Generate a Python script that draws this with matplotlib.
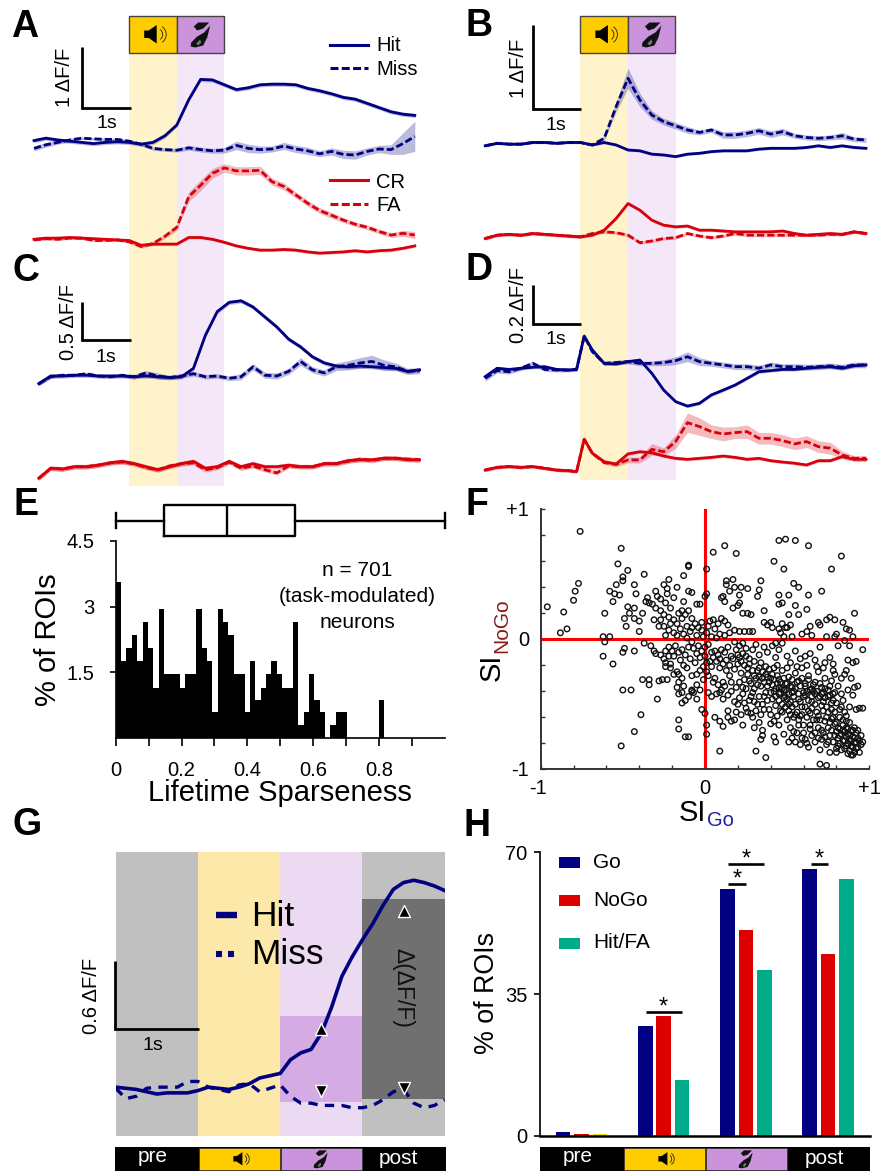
#!/usr/bin/env python3
import numpy as np
import matplotlib
matplotlib.use('Agg')
import matplotlib.pyplot as plt
from matplotlib.patches import Rectangle, Polygon, Arc

plt.rcParams['font.family'] = ['Liberation Sans', 'DejaVu Sans']

W, H = 880, 1171
NAVY, RED = '#000080', '#D8000C'
YELLOW, PURPLE = '#FFCC00', '#CC93DD'
BAND_Y, BAND_P = '#FEF3CB', '#F4E8F8'

# time axis of the traces (s from sound onset)
t_grid = np.arange(-2, 6.01, 0.25)
t_c = t_grid + 0.1
t_d = [-2, -1.75, -1.5, -1.25, -1, -.75, -.5, -.25, -.08, .08, .25, .5, .75,
       1, 1.25, 1.5, 1.75, 2, 2.25, 2.5, 2.75, 3, 3.25, 3.5, 3.75, 4, 4.25, 4.5, 4.75, 5, 5.25, 5.5, 5.75, 6]

# panel A
hit_a = [-.01, .03, 0, -.02, -.04, -.06, -.04, -.03, -.04, -.07, -.04, .07, .25, .67, 1.01, 1.0, .92, .84, .87, .92,
         .93, .93, .92, .86, .82, .77, .71, .68, .61, .54, .47, .43, .41]
miss_a = [-.14, -.08, -.04, 0, .03, .02, .01, .01, -.02, -.07, -.14, -.16, -.17, -.13, -.16, -.18, -.17, -.09, -.14, -.16,
          -.15, -.1, -.15, -.18, -.23, -.19, -.24, -.25, -.19, -.15, -.16, -.06, .06]
sem_miss_a = [.04, .04, .03, .03, .02, .02, .02, .02, .03, .03, .03, .03, .03, .04, .04, .04, .05, .07, .07, .06,
              .05, .06, .06, .06, .05, .06, .07, .07, .06, .06, .08, .18, .25]
cr_a = [-.01, .01, .01, .02, .01, 0, -.01, -.02, -.03, -.11, -.09, -.09, -.09, .02, .02, -.01, -.06, -.12, -.16, -.19,
        -.19, -.18, -.19, -.22, -.24, -.23, -.22, -.2, -.22, -.2, -.19, -.16, -.12]
fa_a = [-.02, 0, -.01, .01, .01, -.03, -.03, -.02, -.05, -.13, -.08, .04, .19, .7, .89, 1.09, 1.18, 1.13, 1.13, 1.14,
        .95, .87, .73, .59, .47, .39, .31, .24, .19, .12, .06, .09, .06]
sem_fa_a = [.02, .02, .02, .02, .02, .02, .02, .02, .03, .03, .03, .04, .05, .08, .09, .08, .07, .07, .07, .07,
            .06, .06, .05, .05, .05, .05, .04, .04, .04, .04, .04, .05, .06]

# panel B
hit_b = [-.03, 0, -.01, -.01, .01, .01, 0, .01, .01, -.02, .01, -.02, -.08, -.09, -.13, -.14, -.16, -.13, -.12, -.1,
         -.09, -.09, -.09, -.07, -.06, -.06, -.06, -.05, -.03, -.05, -.03, -.05, -.06]
miss_b = [-.03, 0, -.01, -.01, .01, .01, 0, .01, .01, -.02, .06, .44, .78, .52, .34, .26, .21, .16, .13, .16,
          .1, .1, .12, .15, .11, .14, .09, .07, .06, .07, .09, .05, .04]
sem_miss_b = [.01, .01, .01, .01, .01, .01, .01, .01, .01, .01, .03, .06, .12, .08, .05, .04, .04, .04, .03, .03,
              .04, .04, .04, .04, .04, .04, .03, .03, .03, .03, .04, .03, .03]
cr_b = [-.03, .01, .02, .01, .03, .02, .01, 0, -.01, .01, .07, .21, .39, .31, .19, .13, .11, .12, .07, .07,
        .06, .05, .05, .05, .05, .06, .03, .01, .02, .03, .02, .05, .03]
fa_b = [-.03, .01, .02, .01, .03, .02, .01, 0, -.01, .03, .05, .04, .01, -.08, -.06, -.03, -.02, .03, 0, -.02,
        0, .03, .01, .01, .01, .01, .01, .01, .01, .02, .02, .05, .03]

# panel C
hit_c = [-.1, 0, 0, .01, .01, 0, 0, 0, -.01, 0, -.01, -.02, -.01, .1, .53, .84, .96, .98, .9, .77,
         .64, .48, .38, .25, .17, .13, .12, .13, .12, .11, .1, .06, .08]
miss_c = [-.1, -.01, .01, .01, .03, 0, -.01, .01, -.01, .04, 0, -.02, 0, .03, -.01, 0, -.03, -.01, .12, .01,
          0, .06, .19, .08, .04, .12, .14, .17, .19, .14, .12, .06, .07]
sem_miss_c = [.03, .02, .02, .02, .02, .02, .02, .02, .03, .03, .04, .03, .03, .03, .03, .03, .03, .04, .04, .04,
              .04, .04, .05, .04, .04, .05, .06, .07, .08, .07, .05, .04, .04]
cr_c = [-.15, -.02, -.03, 0, 0, .02, .05, .07, .04, 0, -.04, 0, .04, .07, -.02, 0, .07, 0, .04, 0,
        0, .02, 0, 0, .04, .04, .08, .09, .09, .11, .11, .09, .09]
fa_c = [-.15, -.02, -.03, 0, 0, .02, .05, .06, .04, -.01, -.04, .01, .04, .05, -.04, -.01, .06, -.02, .01, -.04,
        -.08, .01, 0, 0, .04, .04, .07, .1, .08, .11, .11, .1, .09]

# panel D
hit_d = [-.034, .009, .003, .009, .014, .017, .003, 0, .003, .174, .103, .034, .031, .043, .051, -.017, -.103, -.162,
         -.185, -.171, -.128, -.103, -.077, -.043, -.009, -.003, .003, .003, .009, .014, .017, .009, .022, .026]
miss_d = [-.043, -.003, -.009, .009, .034, .003, 0, 0, .003, .174, .094, .034, .038, .043, .034, .034, .038, .048,
          .068, .043, .034, .026, .017, .017, .009, .026, .017, .017, .014, .017, .021, .014, .026, .026]
sem_miss_d = [.015, .012, .012, .012, .012, .01, .01, .01, .01, .012, .01, .012, .012, .012, .012, .012, .015, .02,
              .025, .02, .015, .015, .015, .015, .015, .015, .015, .015, .015, .015, .015, .015, .015, .015]
cr_d = [-.009, .005, .009, .005, .009, 0, -.009, -.012, -.017, .149, .077, .034, .022, .074, .085, .08, .063, .051,
        .046, .051, .056, .063, .056, .046, .051, .039, .032, .026, .017, .039, .039, .06, .046, .046]
fa_d = [-.009, .005, .009, .005, .009, 0, -.009, -.012, -.017, .149, .077, .029, .02, .043, .043, .097, .085, .137,
        .234, .214, .188, .176, .183, .188, .154, .154, .142, .125, .137, .111, .103, .068, .051, .051]
sem_fa_d = [.008, .008, .008, .008, .008, .008, .008, .008, .008, .008, .008, .008, .012, .015, .015, .03, .02, .035,
            .05, .045, .035, .035, .03, .035, .03, .03, .03, .03, .03, .03, .03, .02, .015, .015]

# panel E
sparseness_pct = [3.55, 1.75, 2.05, 2.35, 1.75, 2.65, 2.05, 1.15, 2.95, 1.47, 1.47, 1.47, 1.15, 1.47, 1.47, 2.95, 2.05, 1.75,
                  .6, 2.95, 2.65, 2.35, 1.47, 1.47, .6, 1.75, .88, 1.15, 1.47, 1.75, 1.47, 1.15, 1.15, 2.65, .3, .6, 1.47,
                  .88, .6, 0, .3, .6, .6, 0, 0, 0, 0, 0, 0, .88, 0, 0, 0, 0, 0, 0, 0, 0, 0, 0, 0]
sparse_bin = 0.0163
sparse_box = dict(whislo=0, q1=.148, med=.338, q3=.543, whishi=1.0, fliers=[])

# panel F: (SI_Go, SI_NoGo)
si_pairs = [
    (-.76, .83), (-.96, .25), (-.86, .21), (-.80, .30), (-.79, .37), (-.77, .43), (-.88, .05), (-.84, .08),
    (-.51, .70), (-.53, .58), (-.47, .53), (-.37, .50), (-.50, .48), (-.54, .42), (-.50, .45), (-.43, .42),
    (-.58, .37), (-.55, .35), (-.52, .34), (-.56, .29), (-.61, .20), (-.62, .02), (-.61, -.02), (-.58, .02),
    (-.62, -.13), (-.56, -.19), (-.50, -.10), (-.49, -.07), (-.43, -.09), (-.47, .25), (-.43, .24), (-.46, .20),
    (-.38, .20), (-.49, .16), (-.43, .16), (-.48, .10), (-.40, .06), (-.40, .14), (-.42, .35), (-.35, .32),
    (-.34, .28), (-.32, .27), (-.29, .33), (-.30, .37), (-.25, .42), (-.22, .46), (-.23, .39), (-.17, .40),
    (-.23, .35), (-.19, .32), (-.13, .29), (-.13, .49), (-.10, .56), (-.10, .57), (-.10, .37), (-.08, .36),
    (-.05, .27), (-.03, .27), (0, .33), (.01, .35), (.01, .54), (.05, .67), (.12, .72), (.19, .66),
    (.45, .76), (.49, .77), (.55, .76), (.63, .72), (.83, .64), (.77, .54), (.48, .54), (.42, .60),
    (-.50, -.39), (-.45, -.39), (-.29, -.46), (-.39, -.58), (-.43, -.71), (-.51, -.82), (-.38, -.31), (-.34, -.31),
    (-.34, -.35), (-.28, -.32), (-.26, -.31), (-.23, -.31), (-.16, -.62), (-.16, -.69), (-.12, -.75), (-.10, -.75),
    (-.02, -.54), (0, -.57), (.01, -.66), (.01, -.73), (.09, -.86), (.31, -.86), (.37, -.91), (.70, -.96),
    (.74, -.97), (.76, -.87), (.80, -.87),
    (.13, .45), (.17, .46), (.13, .42), (.18, .40), (.22, .40), (.26, .39), (.34, .45), (.33, .38), (.32, .33),
    (.21, .34), (.15, .37), (.10, .32), (.11, .33), (.12, .29), (.21, .28), (.20, .26), (.17, .24), (.23, .20),
    (.26, .20), (.28, .19), (.36, .22), (.45, .34), (.51, .34), (.54, .43), (.57, .40), (.63, .34), (.71, .37),
    (.47, .28), (.45, .27), (.55, .26), (.62, .23), (.51, .19), (.57, .19), (.91, .20), (.76, .17), (.74, .15),
    (.69, .13), (.64, .10), (.84, .13), (.40, .13),
    (-.30, .24), (-.27, .22), (-.25, .19), (-.22, .17), (-.19, .15), (-.17, .12), (-.14, .16), (-.12, .19), (-.10, .22),
    (-.08, .16), (-.06, .12), (-.11, .10), (-.15, .08), (-.19, .05), (-.22, .07), (-.24, .03), (-.28, .10), (-.31, .15),
    (-.13, .04), (-.09, .06), (-.05, .03), (-.02, .07), (-.01, .02), (.01, .05), (.03, .14), (.05, .15), (.08, .12),
    (.10, .16), (.12, .14), (.14, .11), (.06, .08), (.09, .04), (.12, .03), (.15, .05), (.18, .07), (.21, .06),
    (.24, .06), (.27, .06), (.29, .06), (.36, .13), (.38, .11), (.41, .09), (.45, .08), (.47, .12), (.49, .09),
    (.50, .09), (.46, .05), (.48, .02), (.53, .02), (.59, .04), (.62, .06), (.65, .03), (.70, .11), (.74, .02),
    (.79, .15), (.80, .04), (.79, .02), (.86, .08), (.88, .07), (.85, -.01), (.88, -.05), (.90, .02), (.52, .11),
    (.43, -.03),
    (-.37, -.03), (-.33, -.05), (-.31, -.09), (-.30, -.11), (-.27, -.12), (-.25, -.15), (-.24, -.18), (-.22, -.13),
    (-.20, -.09), (-.18, -.05), (-.16, -.10), (-.14, -.08), (-.12, -.12), (-.10, -.06), (-.08, -.02), (-.05, -.11),
    (-.03, -.14), (0, -.06), (.02, -.04), (.04, -.10), (.06, -.09), (.08, -.12), (.10, -.08), (.12, -.10), (.14, -.06),
    (.16, -.13), (.18, -.02), (.21, -.05), (.23, -.11), (.25, -.13), (.27, -.15), (.29, -.08), (.31, -.04), (.33, -.12),
    (.36, -.06), (.38, -.10), (.41, -.05), (.43, -.14), (.45, -.08), (.47, -.03), (.50, -.13), (.52, -.18), (.55, -.09),
    (.58, -.15), (.61, -.13), (.64, -.11), (.67, -.16), (.70, -.06), (.73, -.18), (.76, -.14), (.78, -.19), (.81, -.05),
    (.87, -.16), (.92, -.17), (.96, -.08), (.90, -.18),
    (-.21, -.22), (-.19, -.27), (-.16, -.33), (-.17, -.37), (-.13, -.36), (-.08, -.39), (-.05, -.35), (-.16, -.42),
    (-.12, -.47), (-.08, -.40), (-.14, -.49),
    (-.24, -.21), (-.21, -.19), (-.17, -.25), (-.16, -.27), (-.14, -.30), (-.11, -.22), (-.08, -.28), (-.05, -.27),
    (-.03, -.24), (-.01, -.31), (.01, -.25), (.04, -.21), (.06, -.30), (.09, -.22), (.11, -.33), (.13, -.24), (.15, -.28),
    (.18, -.23), (.20, -.19), (.22, -.26), (.24, -.31), (.26, -.22), (.28, -.34), (.30, -.28), (.32, -.24), (.34, -.36),
    (.35, -.30), (.37, -.21), (.39, -.33), (.41, -.27), (.43, -.38), (.45, -.31), (.47, -.24), (.49, -.34), (.51, -.29),
    (.53, -.37), (.55, -.26), (.57, -.32), (.59, -.22), (.61, -.36), (.63, -.28), (.65, -.38), (.67, -.33), (.69, -.25),
    (.71, -.37), (.73, -.30), (.75, -.39), (.77, -.32), (.79, -.27), (.81, -.36), (.83, -.30), (.85, -.27), (.87, -.39),
    (.89, -.30), (.91, -.37), (.93, -.36), (.86, -.24), (.33, -.22), (.38, -.29), (.44, -.20), (.50, -.22), (.56, -.21),
    (.62, -.20), (.68, -.21), (.72, -.22), (.78, -.24),
    (-.14, -.41), (-.10, -.44), (-.07, -.41), (-.05, -.46), (-.03, -.39), (.02, -.41), (.04, -.44), (.07, -.42), (.09, -.41),
    (.11, -.46), (.14, -.43), (.16, -.40), (.18, -.48), (.21, -.45), (.23, -.42), (.25, -.53), (.27, -.47), (.29, -.41),
    (.31, -.55), (.33, -.44), (.35, -.50), (.37, -.41), (.39, -.54), (.41, -.46), (.43, -.51), (.45, -.42), (.47, -.56),
    (.49, -.44), (.51, -.50), (.53, -.41), (.55, -.58), (.57, -.46), (.59, -.52), (.61, -.43), (.63, -.55), (.65, -.48),
    (.67, -.42), (.69, -.59), (.71, -.51), (.73, -.45), (.75, -.56), (.77, -.49), (.79, -.41), (.82, -.54), (.84, -.47),
    (.86, -.59), (.88, -.52), (.90, -.43), (.92, -.54), (.94, -.53), (.96, -.53), (.14, -.55), (.19, -.56), (.22, -.58),
    (.28, -.57), (.34, -.58), (.38, -.47), (.44, -.59), (.52, -.58), (.58, -.59), (.64, -.57), (.70, -.44), (.76, -.43),
    (.83, -.42), (.30, -.48), (.36, -.44), (.42, -.40), (.48, -.39), (.54, -.40), (.60, -.41), (.66, -.40), (.72, -.41),
    (.78, -.42),
    (.06, -.60), (.09, -.63), (.11, -.67), (.14, -.60), (.16, -.63), (.18, -.62), (.23, -.66), (.30, -.68), (.33, -.64),
    (.35, -.70), (.35, -.74), (.34, -.77), (.42, -.75), (.43, -.79), (.40, -.65), (.45, -.66), (.48, -.73), (.51, -.79),
    (.53, -.76), (.54, -.71), (.55, -.79), (.57, -.66), (.58, -.81), (.60, -.72), (.61, -.77), (.63, -.83), (.64, -.66),
    (.65, -.74), (.67, -.79), (.68, -.62), (.69, -.68), (.70, -.85), (.71, -.77), (.72, -.72), (.73, -.63), (.74, -.81),
    (.75, -.68), (.76, -.74), (.77, -.61), (.78, -.79), (.79, -.65), (.80, -.71), (.80, -.84), (.81, -.76), (.82, -.69),
    (.82, -.80), (.83, -.73), (.84, -.66), (.84, -.78), (.85, -.71), (.85, -.84), (.86, -.75), (.86, -.68), (.87, -.80),
    (.87, -.73), (.88, -.86), (.88, -.77), (.89, -.70), (.89, -.82), (.90, -.75), (.90, -.89), (.91, -.68), (.91, -.80),
    (.92, -.84), (.93, -.76), (.94, -.87), (.95, -.81), (.96, -.79),
    (.20, -.12), (.22, -.17), (.24, -.20), (.26, -.27), (.27, -.19), (.29, -.24), (.30, -.17), (.31, -.30), (.32, -.35),
    (.33, -.29), (.34, -.18), (.35, -.25), (.36, -.33), (.37, -.27), (.38, -.36), (.39, -.23), (.40, -.30), (.40, -.41),
    (.41, -.35), (.42, -.22), (.42, -.31), (.43, -.44), (.44, -.34), (.44, -.28), (.45, -.37), (.45, -.47), (.46, -.41),
    (.46, -.33), (.47, -.50), (.47, -.38), (.48, -.45), (.48, -.30), (.49, -.52), (.49, -.39), (.50, -.46), (.50, -.34),
    (.51, -.55), (.51, -.42), (.52, -.36), (.52, -.48), (.53, -.31), (.53, -.52), (.54, -.44), (.54, -.60), (.55, -.38),
    (.55, -.50), (.56, -.33), (.56, -.56), (.57, -.42), (.57, -.62), (.58, -.36), (.58, -.48), (.59, -.30), (.59, -.58),
    (.60, -.44), (.60, -.66), (.61, -.52), (.61, -.34), (.62, -.40), (.62, -.60), (.63, -.47), (.63, -.31), (.64, -.69),
    (.64, -.39), (.65, -.53), (.65, -.44), (.66, -.62), (.66, -.35), (.67, -.50), (.67, -.72), (.68, -.40), (.68, -.56),
    (.69, -.45), (.69, -.76), (.70, -.34), (.70, -.62), (.71, -.42), (.71, -.70), (.72, -.55), (.72, -.48), (.73, -.38),
    (.73, -.75), (.74, -.60), (.74, -.52), (.75, -.44), (.75, -.79), (.76, -.64), (.76, -.36), (.77, -.54), (.77, -.70),
    (.78, -.47), (.78, -.60), (.79, -.74), (.79, -.56), (.80, -.64), (.80, -.49), (.81, -.68), (.81, -.82), (.82, -.60),
    (.82, -.74), (.83, -.52), (.83, -.85), (.84, -.70), (.84, -.62), (.85, -.78), (.85, -.56), (.86, -.82), (.86, -.63),
    (.87, -.69), (.87, -.88), (.88, -.74), (.88, -.64), (.89, -.78), (.89, -.89), (.90, -.70), (.90, -.83), (.91, -.76),
    (.91, -.87), (.92, -.72), (.92, -.79), (.93, -.83), (.93, -.70), (.94, -.78), (.95, -.74),
    (.03, -.17), (.05, -.14), (.07, -.17), (.09, -.15), (.11, -.19), (.13, -.16), (.15, -.20), (.17, -.15), (.19, -.08),
    (.21, -.14), (.23, -.03), (.25, -.07), (.02, -.28), (.05, -.33), (.08, -.35), (.10, -.39), (.12, -.36), (.16, -.33),
    (.19, -.37), (.21, -.33), (.23, -.37), (.25, -.38), (.27, -.32), (.28, -.44), (.30, -.38), (.20, -.50), (.24, -.49),
    (.26, -.56), (.29, -.60), (.32, -.50), (.36, -.54), (.40, -.58), (.42, -.63), (.46, -.55), (.50, -.62), (.52, -.68),
    (.56, -.72), (.59, -.76), (.62, -.80),
    (-.07, -.07), (-.04, -.05), (-.02, -.09), (0, -.13), (.01, -.18), (-.01, -.21), (-.06, -.18), (-.09, -.15), (-.13, -.20),
    (-.15, -.16), (-.19, -.13), (-.22, -.06), (-.24, -.09), (-.11, .01), (-.08, .09), (-.04, .09), (-.02, .13), (.02, .10),
    (.04, .02), (.07, .01), (-.17, .03), (-.21, .12), (-.25, .10), (-.27, .15), (-.24, .28), (-.27, .31), (-.21, .24),
    (-.16, .20), (-.14, .22), (-.36, .29),
]

# panel G
t_g = np.arange(-1, 3.01, 0.125)
hit_g = [.01, 0, -.01, -.03, -.05, -.04, -.04, -.04, -.02, .01, 0, -.01, .01, .04, .09, .11, .13, .25, .31, .34,
         .48, .71, .98, 1.15, 1.3, 1.44, 1.6, 1.74, 1.8, 1.82, 1.8, 1.77, 1.73]
miss_g = [0, -.09, -.07, 0, .01, .01, .01, .06, .06, .01, -.01, -.03, .03, .04, -.03, 0, .03, -.07, -.13, -.13,
          -.15, -.15, -.15, -.17, -.17, -.15, -.1, -.03, -.01, -.13, -.17, -.15, -.1]
hit_epochs = [(1.5, .52), (2.5, 1.55)]
miss_epochs = [(1.5, -.02), (2.5, 0)]

# panel H
epochs = ['pre', 'sound', 'lick', 'post']
go_pct = [.9, 27.1, 61, 65.8]
nogo_pct = [.4, 29.5, 50.8, 44.9]
hitfa_pct = [.3, 13.7, 40.9, 63.5]
hitfa_colors = ['#EEDD00', '#00AB8A', '#00AB8A', '#00AB8A']


def px_axes(x0, py0, x1, py1, **kw):
    return fig.add_axes([x0 / W, 1 - py1 / H, (x1 - x0) / W, (py1 - py0) / H], **kw)


def trace_axes(x0, x1, py0, py1, onset_px, base_py, per_unit):
    ax = px_axes(x0, py0, x1, py1)
    ax.set_xlim((x0 - onset_px) / 47.6, (x1 - onset_px) / 47.6)
    ax.set_ylim((base_py - py1) / per_unit, (base_py - py0) / per_unit)
    ax.axis('off')
    ax.patch.set_alpha(0)
    ax.axvspan(0, 1, color=BAND_Y, lw=0, zorder=0)
    ax.axvspan(1, 2, color=BAND_P, lw=0, zorder=0)
    return ax


def trace(ax, t, vals, color, dashed=False, sem=.02, offset=0, lw=2.0):
    vals = np.array(vals) + offset
    sem = np.array(sem)
    ax.fill_between(t, vals - sem, vals + sem, color=color, alpha=.27, lw=0, zorder=1)
    if dashed:
        ax.plot(t, vals, color=color, lw=lw, dashes=(2.6, 1.1), zorder=3)
    else:
        ax.plot(t, vals, color=color, lw=lw, zorder=2)


def speaker(cx, cy, s=1.0):
    pts = [(-8.5, -4), (-4, -4), (4, -9.5), (4, 9), (-4, 3.5), (-8.5, 3.5)]
    ov.add_patch(Polygon([(cx + s * x, cy + s * y) for x, y in pts], color='k', lw=0, zorder=6))
    for r in (6, 9.5):
        ov.add_patch(Arc((cx + s * 4, cy), 2 * s * r, 2 * s * r, theta1=-55, theta2=55, color='#222', lw=.6, zorder=6))


def droplet(cx, cy, s=1.0):
    top = [(-6.5, -8), (-2, -12), (9, -12), (3, -6), (-3, -4)]
    low = [(10, -9), (4, -2), (-3, 2), (-9, 8), (-9.5, 12), (-5, 13), (3, 11), (7, 3)]
    shine = [(-4, 9), (0, 5), (1, 8), (-2, 11)]
    ov.add_patch(Polygon([(cx + s * x, cy + s * y) for x, y in top], color='#111', lw=0, zorder=6))
    ov.add_patch(Polygon([(cx + s * x, cy + s * y) for x, y in low], color='#111', lw=0, zorder=6))
    ov.add_patch(Polygon([(cx + s * x, cy + s * y) for x, y in shine], color='#777', lw=0, zorder=7))


def header(x0):
    ov.add_patch(Rectangle((x0, 16), 47.5, 37, fc=YELLOW, ec='#444', lw=1, zorder=5))
    ov.add_patch(Rectangle((x0 + 47.5, 16), 47.5, 37, fc=PURPLE, ec='#444', lw=1, zorder=5))
    speaker(x0 + 23.5, 34.5)
    droplet(x0 + 71, 34.5)


def epoch_bar(x0, x1, ya, yb, pre_x, post_x):
    ov.add_patch(Rectangle((x0, 1147), x1 - x0, 24, fc='k', lw=0, zorder=5))
    ov.add_patch(Rectangle((ya, 1148), 81, 22, fc=YELLOW, ec='#333', lw=.5, zorder=5))
    ov.add_patch(Rectangle((yb, 1148), 81, 22, fc=PURPLE, ec='#333', lw=.5, zorder=5))
    speaker(ya + 41, 1159, .72)
    droplet(yb + 40, 1159, .72)
    txt(pre_x, 1157, 'pre', 15, color='w')
    txt(post_x, 1158, 'post', 15, color='w')


def txt(x, y, s, size, **kw):
    kw.setdefault('ha', 'center')
    kw.setdefault('va', 'center')
    ov.text(x, y, s, fontsize=size, zorder=8, **kw)


def scale_bar(x, py0, py1, x1, lw=2.0):
    ov.plot([x, x, x1], [py0, py1, py1], color='k', lw=lw, solid_joinstyle='miter', solid_capstyle='butt', zorder=5)


fig = plt.figure(figsize=(W / 100, H / 100), dpi=100)
ov = fig.add_axes([0, 0, 1, 1], zorder=10)
ov.set_xlim(0, W)
ov.set_ylim(H, 0)
ov.axis('off')
ov.patch.set_alpha(0)

# A
ax = trace_axes(0, 440, 53, 258, 129.2, 140, 60)
red_off = (140 - 238.7) / 60
trace(ax, t_grid, hit_a, NAVY, sem=.035)
trace(ax, t_grid, miss_a, NAVY, True, sem_miss_a)
trace(ax, t_grid, cr_a, RED, sem=.025, offset=red_off)
trace(ax, t_grid, fa_a, RED, True, sem_fa_a, red_off)

# B
ax = trace_axes(440, 880, 53, 258, 580.4, 143.3, 83.3)
red_off = (143.3 - 236) / 83.3
trace(ax, t_grid, hit_b, NAVY, sem=.015)
trace(ax, t_grid, miss_b, NAVY, True, sem_miss_b)
trace(ax, t_grid, cr_b, RED, sem=.018, offset=red_off)
trace(ax, t_grid, fa_b, RED, True, sem=.018, offset=red_off)

# C
ax = trace_axes(0, 440, 258, 486, 129.2, 376, 76.7)
red_off = (376 - 466.7) / 76.7
trace(ax, t_c, hit_c, NAVY, sem=.028)
trace(ax, t_c, miss_c, NAVY, True, sem_miss_c)
trace(ax, t_c, cr_c, RED, sem=.03, offset=red_off)
trace(ax, t_c, fa_c, RED, True, sem=.03, offset=red_off)

# D
ax = trace_axes(440, 880, 258, 480, 580.4, 370, 195)
red_off = (370 - 468.3) / 195
trace(ax, t_d, hit_d, NAVY, sem=.008)
trace(ax, t_d, miss_d, NAVY, True, sem_miss_d)
trace(ax, t_d, cr_d, RED, sem=.008, offset=red_off)
trace(ax, t_d, fa_d, RED, True, sem_fa_d, red_off)

header(129.2)
header(580.4)
scale_bar(82, 47, 107.5, 130.5)
scale_bar(532.7, 25, 108.5, 581)
scale_bar(82, 301.5, 340, 130.5)
scale_bar(532.7, 285, 324, 581)
txt(64, 77, '1 \u0394F/F', 14.5, rotation=90)
txt(107, 123, '1s', 14)
txt(518, 68, '1 \u0394F/F', 14.5, rotation=90)
txt(556, 125, '1s', 14)
txt(68, 322, '0.5 \u0394F/F', 14.5, rotation=90)
txt(106, 357, '1s', 14)
txt(518, 305, '0.2 \u0394F/F', 14.5, rotation=90)
txt(556, 340, '1s', 14)

# trace legend of A
ov.plot([330, 368], [44.7, 44.7], color=NAVY, lw=2.2, zorder=5)
ov.plot([330, 368], [67.7, 67.7], color=NAVY, lw=2.2, dashes=(2.6, 1.1), zorder=5)
ov.plot([330, 368], [180.3, 180.3], color=RED, lw=2.2, zorder=5)
ov.plot([330, 368], [203.7, 203.7], color=RED, lw=2.2, dashes=(2.6, 1.1), zorder=5)
for ly, lab in [(45.5, 'Hit'), (69.5, 'Miss'), (182, 'CR'), (205.5, 'FA')]:
    txt(376, ly, lab, 14.5, ha='left')

# E
ax_box = px_axes(115.7, 500, 445, 541)
ax_box.bxp([sparse_box], orientation='horizontal', widths=.8, showfliers=False,
           boxprops=dict(lw=1.7), medianprops=dict(color='k', lw=1.7), whiskerprops=dict(lw=1.7), capprops=dict(lw=1.7))
ax_box.set_xlim(0, 1)
ax_box.set_ylim(.48, 1.52)
ax_box.axis('off')
for child in ax_box.get_children():
    child.set_clip_on(False)

ax = px_axes(115.7, 540.7, 445, 738.3)
edges = np.arange(len(sparseness_pct)) * sparse_bin
ax.bar(edges, sparseness_pct, sparse_bin, align='edge', color='k', lw=0)
ax.set_xlim(0, 1)
ax.set_ylim(0, 4.5)
ax.spines[['top', 'right']].set_visible(False)
ax.spines[['left', 'bottom']].set_linewidth(1.2)
ax.set_xticks(np.arange(0, .91, .1))
ax.set_xticklabels(['0', '', '0.2', '', '0.4', '', '0.6', '', '0.8', ''])
ax.set_yticks([1.5, 3, 4.5])
ax.set_yticklabels(['1.5', '3', '4.5'])
ax.tick_params(axis='x', length=6, width=1.2, labelsize=14.5, pad=10)
ax.tick_params(axis='y', length=4, width=1.2, labelsize=14.5, pad=11)
txt(280, 793, 'Lifetime Sparseness', 21)
txt(47.5, 640, '% of ROIs', 21, rotation=90)
txt(357, 570, 'n = 701', 15)
txt(357, 597, '(task-modulated)', 15)
txt(357, 623, 'neurons', 15)

# F
ax = px_axes(540.7, 509.3, 869.3, 769.3)
si_go, si_nogo = zip(*si_pairs)
ax.scatter(si_go, si_nogo, s=16, facecolors='none', edgecolors='#111', linewidths=1.0, zorder=3, clip_on=False)
ax.axhline(0, color='#FF0000', lw=2.2, zorder=2)
ax.axvline(0, color='#FF0000', lw=2.2, zorder=2)
ax.set_xlim(-1, 1)
ax.set_ylim(-1, 1)
ax.spines[['top', 'right']].set_visible(False)
ax.spines[['left', 'bottom']].set_color('#333')
ax.spines[['left', 'bottom']].set_linewidth(1.4)
ticks = np.arange(-1, 1.01, .2)
ax.set_xticks(ticks)
ax.set_yticks(ticks)
ax.set_xticklabels(['' for _ in ticks])
ax.set_yticklabels(['' for _ in ticks])
ax.tick_params(direction='in', length=3, width=1, color='#333')
for x, lab in [(541, '-1'), (705, '0'), (869, '+1')]:
    txt(x - (3 if lab == '-1' else 0), 789, lab, 14.5)
for y, lab in [(510, '+1'), (640, '0'), (771, '-1')]:
    txt(529, y, lab, 14.5, ha='right')
txt(692, 813, 'SI', 21)
txt(706.5, 820, 'Go', 14.5, color='#1F1FA8', ha='left', va='center')
txt(492, 667, 'SI', 21, rotation=90)
txt(502, 626, 'NoGo', 15, rotation=90, color='#8B1A1A')

# G
ax = px_axes(115.7, 852.3, 444.7, 1136)
ax.set_xlim(-1, 3)
ax.set_ylim((1088.3 - 1136) / 114.3, (1088.3 - 852.3) / 114.3)
ax.axis('off')
ax.axvspan(-1, 0, color='#C0C0C0', lw=0, zorder=0)
ax.axvspan(0, 1, color='#FCE9A9', lw=0, zorder=0)
ax.axvspan(1, 2, color='#ECDAF2', lw=0, zorder=0)
ax.axvspan(2, 3, color='#C0C0C0', lw=0, zorder=0)
ax.add_patch(Rectangle((1, -.12), 1, .75, fc='#D4ACE3', lw=0, zorder=1))
ax.add_patch(Rectangle((2, -.09), 1, 1.75, fc='#707070', lw=0, zorder=1))
ax.plot(t_g, miss_g, color=NAVY, lw=2.4, dashes=(2.8, 2.2), zorder=2)
ax.plot(t_g, hit_g, color=NAVY, lw=2.6, zorder=3)
ax.scatter(*zip(*hit_epochs), marker='^', s=75, c='k', edgecolors='w', linewidths=1, zorder=4)
ax.scatter(*zip(*miss_epochs), marker='v', s=75, c='k', edgecolors='w', linewidths=1, zorder=4)
ov.plot([216, 237], [915.3, 915.3], color=NAVY, lw=4.6, solid_capstyle='butt', zorder=5)
ov.plot([216, 221.5], [954, 954], color=NAVY, lw=4.4, solid_capstyle='butt', zorder=5)
ov.plot([228, 233.5], [954, 954], color=NAVY, lw=4.4, solid_capstyle='butt', zorder=5)
txt(251, 916, 'Hit', 25.5, ha='left')
txt(251, 954, 'Miss', 25.5, ha='left')
scale_bar(115, 961, 1029, 198.5)
txt(91.5, 995.5, '0.6 \u0394F/F', 14.5, rotation=90)
txt(153, 1046, '1s', 14)
txt(402.5, 988, '\u0394(\u0394F/F)', 16.5, rotation=270, color='#111')
epoch_bar(115, 445.5, 198.5, 280.5, 153, 398.5)

# H
ax = px_axes(540, 852.3, 870, 1135.7)
idx = np.arange(len(epochs))
ax.bar(idx - .223, go_pct, .178, color=NAVY, lw=0)
ax.bar(idx, nogo_pct, .178, color='#DD0000', lw=0)
ax.bar(idx + .223, hitfa_pct, .178, color=hitfa_colors, lw=0)
ax.set_xlim(-.505, 3.51)
ax.set_ylim(0, 70)
ax.spines[['top', 'right']].set_visible(False)
ax.spines['left'].set_linewidth(1.4)
ax.spines['bottom'].set_linewidth(1.8)
ax.spines['left'].set_color('#222')
ax.set_xticks([])
ax.set_yticks([0, 35, 70])
ax.tick_params(axis='y', length=4, width=1.2, labelsize=14.5, pad=5)
for y_leg, color, lab in [(862.5, NAVY, 'Go'), (900.7, '#DD0000', 'NoGo'), (943, '#00AB8A', 'Hit/FA')]:
    ov.add_patch(Rectangle((559, y_leg - 5.5), 20.5, 11, fc=color, lw=0, zorder=5))
    txt(593.5, y_leg, lab, 15, ha='left')
for x0, x1, y in [(645.7, 681.7, 1012), (728.3, 764, 864.3), (728.3, 745.7, 884.3), (810.7, 828, 864.3)]:
    ov.plot([x0, x1], [y, y], color='k', lw=1.9, solid_capstyle='butt', zorder=5)
    txt((x0 + x1) / 2, y - 4.5, '*', 17)
txt(487, 993, '% of ROIs', 19.3, rotation=90)
epoch_bar(540, 870, 623.5, 705.5, 578, 824)

for x, y, lab in [(11, 37, 'A'), (465, 36, 'B'), (12, 281, 'C'), (465, 280, 'D'),
                  (13, 515, 'E'), (465, 515, 'F'), (12, 835, 'G'), (464, 836, 'H')]:
    ov.text(x, y, lab, fontsize=27, fontweight='bold', ha='left', va='baseline')

fig.savefig('out.png', dpi=100)
